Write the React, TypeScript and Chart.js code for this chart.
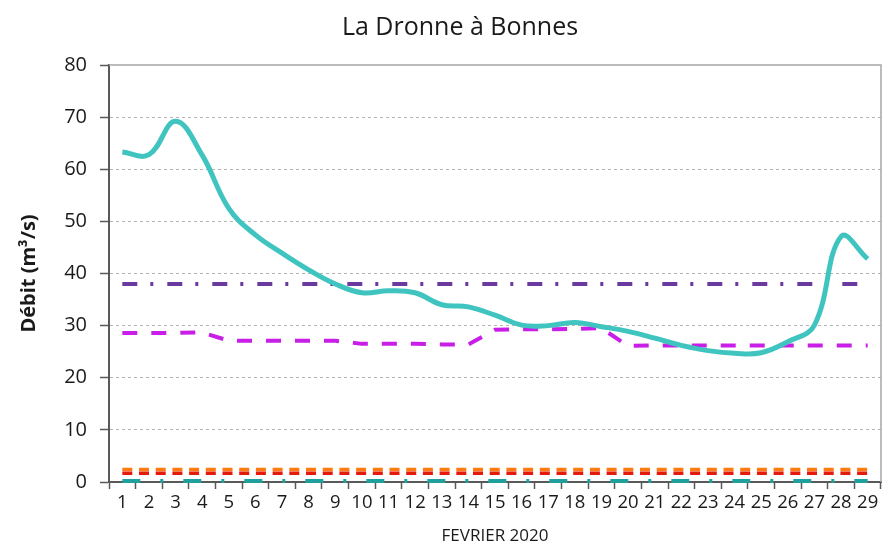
import React, { useEffect, useRef } from "react";
import { Chart, registerables } from "chart.js";

Chart.register(...registerables);

const days: string[] = ["1","2","3","4","5","6","7","8","9","10","11","12","13","14","15","16","17","18","19","20","21","22","23","24","25","26","27","28","29"];

const debit: number[] = [63.3, 62.8, 69.2, 62.7, 52.5, 47.4, 43.9, 40.7, 38.0, 36.3, 36.7, 36.3, 34.0, 33.6, 32.0, 30.1, 30.0, 30.6, 29.8, 28.9, 27.6, 26.2, 25.2, 24.7, 24.8, 26.9, 30.1, 47.1, 42.8];

const seuilHaut: number[] = days.map(() => 38);

const moyenne: number[] = [28.6, 28.6, 28.6, 28.7, 27.1, 27.1, 27.1, 27.1, 27.1, 26.5, 26.5, 26.5, 26.4, 26.4, 29.2, 29.3, 29.3, 29.4, 29.5, 26.1, 26.2, 26.2, 26.2, 26.2, 26.2, 26.2, 26.2, 26.2, 26.2];

const alerte: number[] = days.map(() => 2.4);
const crise: number[] = days.map(() => 1.7);
const zero: number[] = days.map(() => 0.2);

const yTicks: number[] = [0, 10, 20, 30, 40, 50, 60, 70, 80];

const titleText = "La Dronne à Bonnes";
const yTitle = "Débit (m³/s)";
const xTitle = "FEVRIER 2020";

const FONT = "'Open Sans', 'DejaVu Sans', sans-serif";

const frame = {
  id: "frame",
  afterDraw(chart: any) {
    const { ctx, chartArea } = chart;
    ctx.save();
    ctx.strokeStyle = "#A6A6A6";
    ctx.lineWidth = 1.5;
    ctx.beginPath();
    ctx.moveTo(chartArea.left, chartArea.top);
    ctx.lineTo(chartArea.right, chartArea.top);
    ctx.lineTo(chartArea.right, chartArea.bottom);
    ctx.stroke();
    ctx.fillStyle = "#1a1a1a";
    ctx.font = `25px ${FONT}`;
    ctx.textAlign = "center";
    ctx.textBaseline = "middle";
    ctx.fillText(titleText, 460, 28);
    ctx.restore();
  },
};

export default function App() {
  const ref = useRef<HTMLCanvasElement | null>(null);
  useEffect(() => {
    if (!ref.current) return;
    const chart = new Chart(ref.current, {
      type: "line",
      data: {
        labels: days,
        datasets: [
          {
            label: "Débit",
            data: debit,
            borderColor: "#40C4C0",
            borderWidth: 5,
            tension: 0.4,
            pointRadius: 0,
            order: 0,
          },
          {
            label: "Seuil",
            data: seuilHaut,
            borderColor: "#6A3A9E",
            borderWidth: 4,
            borderDash: [15, 13, 3, 14],
            pointRadius: 0,
            order: 1,
          },
          {
            label: "Moyenne",
            data: moyenne,
            borderColor: "#C81EE8",
            borderWidth: 4,
            borderDash: [15, 14],
            pointRadius: 0,
            tension: 0,
            order: 2,
          },
          {
            label: "Alerte",
            data: alerte,
            borderColor: "#FF7A10",
            borderWidth: 3.5,
            borderDash: [10, 6.7],
            pointRadius: 0,
            order: 4,
          },
          {
            label: "Crise",
            data: crise,
            borderColor: "#E41A0C",
            borderWidth: 3.5,
            borderDash: [10, 6.7],
            pointRadius: 0,
            order: 3,
          },
          {
            label: "Zero",
            data: zero,
            borderColor: "#1FA09C",
            borderWidth: 4,
            borderDash: [18, 20, 3, 20],
            pointRadius: 0,
            clip: false as any,
            order: 5,
          },
        ],
      },
      options: {
        responsive: false,
        animation: false,
        devicePixelRatio: 1,
        layout: { padding: { top: 65, right: 9, bottom: 0, left: 0 } },
        plugins: {
          legend: { display: false },
          tooltip: { enabled: false },
          title: { display: false },
        },
        scales: {
          x: {
            type: "category",
            offset: true,
            afterFit(scale: any) {
              scale.height = 70;
            },
            grid: {
              display: true,
              drawOnChartArea: false,
              drawTicks: true,
              tickLength: 7,
              offset: true,
              tickColor: "#595959",
              tickWidth: 1.5,
            },
            border: { color: "#595959", width: 2 },
            ticks: {
              autoSkip: false,
              maxRotation: 0,
              color: "#1a1a1a",
              padding: 3,
              font: { family: FONT, size: 18.5 },
            },
            title: {
              display: true,
              text: xTitle,
              color: "#1a1a1a",
              font: { family: FONT, size: 17 },
              padding: { top: 0, bottom: 6 },
            },
          },
          y: {
            min: 0,
            max: 80,
            afterFit(scale: any) {
              scale.width = 109;
            },
            afterBuildTicks(scale: any) {
              scale.ticks = yTicks.map((v) => ({ value: v }));
            },
            grid: {
              color: (c: any) => (c.tick && (c.tick.value === 0 || c.tick.value === 80) ? "rgba(0,0,0,0)" : "#B5B5B5"),
              lineWidth: 1,
              tickColor: "#595959",
              tickWidth: 1.5,
              tickLength: 9,
              tickBorderDash: [],
              drawTicks: true,
            },
            border: { color: "#595959", width: 2, dash: [3, 3] },
            ticks: {
              color: "#1a1a1a",
              padding: 13,
              font: { family: FONT, size: 20 },
            },
            title: {
              display: true,
              text: yTitle,
              color: "#1a1a1a",
              font: { family: FONT, size: 20, weight: "bold" },
              padding: { top: 17, bottom: 0 },
            },
          },
        },
      },
      plugins: [frame],
    });
    return () => chart.destroy();
  }, []);
  return (
    <div style={{ position: "fixed", left: 0, top: 0, width: 890, height: 552, background: "#fff" }}>
      <canvas ref={ref} width={890} height={552} style={{ width: 890, height: 552, display: "block" }} />
    </div>
  );
}
